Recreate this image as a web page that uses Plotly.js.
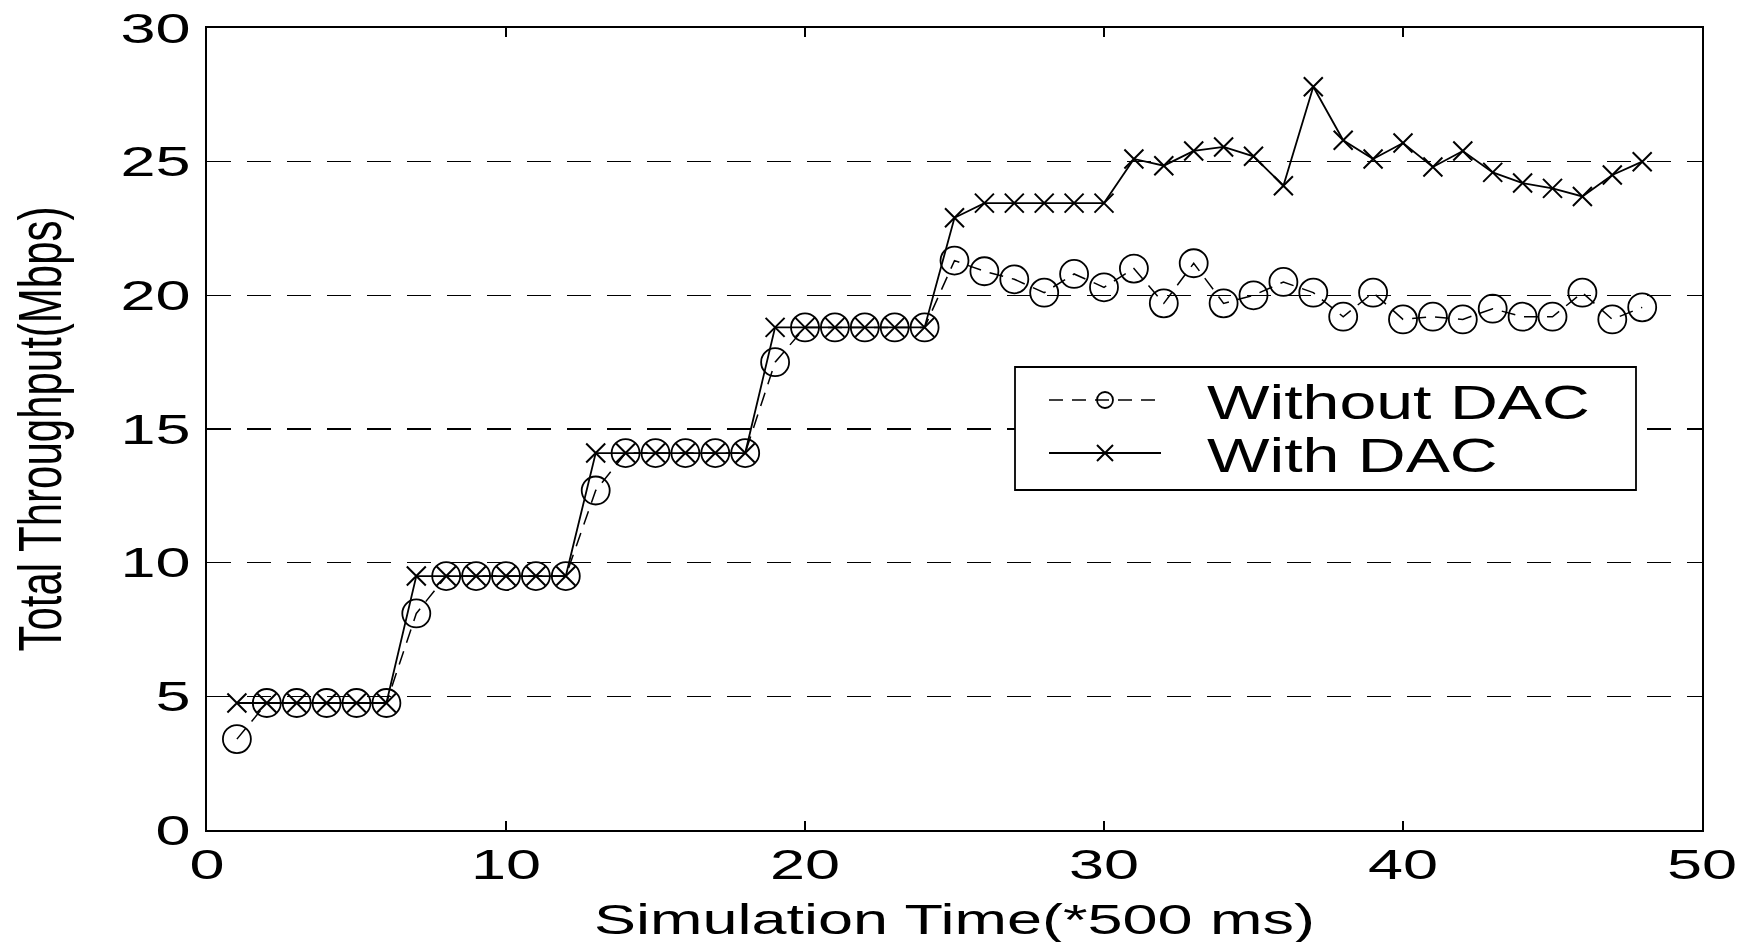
<!DOCTYPE html>
<html>
<head>
<meta charset="utf-8">
<script src="https://cdn.plot.ly/plotly-3.0.1.min.js"></script>
<style>
  html, body { margin: 0; padding: 0; background: #fff; }
  #chart { width: 1755px; height: 942px; }
</style>
</head>
<body>
<div id="chart"></div>
<script>
// ---- data ----
const timeSteps = [1,2,3,4,5,6,7,8,9,10,11,12,13,14,15,16,17,18,19,20,21,22,23,24,
                   25,26,27,28,29,30,31,32,33,34,35,36,37,38,39,40,41,42,43,44,45,46,47,48];
const withoutDAC = [3.4,4.75,4.75,4.75,4.75,4.75, 8.1,9.5,9.5,9.5,9.5,9.5,
                    12.7,14.1,14.1,14.1,14.1,14.1, 17.5,18.8,18.8,18.8,18.8,18.8,
                    21.3,20.9,20.6,20.1,20.8,20.3,21.0,19.7,21.2,19.7,20.0,20.5,
                    20.1,19.2,20.1,19.1,19.2,19.1,19.5,19.2,19.2,20.1,19.1,19.55];
const withDAC = [4.75,4.75,4.75,4.75,4.75,4.75, 9.5,9.5,9.5,9.5,9.5,9.5,
                 14.1,14.1,14.1,14.1,14.1,14.1, 18.8,18.8,18.8,18.8,18.8,18.8,
                 22.9,23.45,23.45,23.45,23.45,23.45,25.1,24.85,25.4,25.55,25.2,24.1,
                 27.8,25.8,25.1,25.7,24.8,25.4,24.6,24.2,24.0,23.7,24.5,25.0];
const seriesNames = ['Without DAC', 'With DAC'];
const xTicks = [0,10,20,30,40,50];
const yTicks = [0,5,10,15,20,25,30];
const xTitle = 'Simulation Time(*500 ms)';
const yTitle = 'Total Throughput(Mbps)';

const FONT = 'Liberation Sans, Arial, Helvetica, sans-serif';

const traces = [
  {
    x: timeSteps, y: withoutDAC, name: seriesNames[0],
    type: 'scatter', mode: 'lines+markers',
    line: { color: '#000', width: 1.5, dash: '14px,9px' },
    marker: { symbol: 'circle-open', size: 28, color: '#000', line: { color: '#000', width: 1.8 } }
  },
  {
    x: timeSteps, y: withDAC, name: seriesNames[1],
    type: 'scatter', mode: 'lines+markers',
    line: { color: '#000', width: 1.8 },
    marker: { symbol: 'x-thin-open', size: 19, color: '#000', line: { color: '#000', width: 2 } }
  }
];

const L = 207, R = 53, T = 28, B = 112;
const plotW = 1755 - L - R, plotH = 942 - T - B;
function px2paperX(px) { return (px - L) / plotW; }
function px2paperY(py) { return (942 - B - py) / plotH; }

const layout = {
  width: 1755, height: 942,
  margin: { l: L, r: R, t: T, b: B, pad: 0 },
  paper_bgcolor: '#fff', plot_bgcolor: '#fff',
  font: { family: FONT, color: '#000', size: 42 },
  showlegend: true,
  xaxis: {
    range: [0, 50], tickvals: xTicks, ticktext: xTicks.map(String),
    showgrid: false, zeroline: false,
    showline: true, linecolor: '#000', linewidth: 2, mirror: 'ticks',
    ticks: 'inside', ticklen: 9, tickwidth: 1.5, tickcolor: '#000',
    tickfont: { family: FONT, size: 42, color: '#000' },
    ticklabelstandoff: -3,
    title: { text: xTitle, font: { family: FONT, size: 42, color: '#000' }, standoff: 36 },
    automargin: false
  },
  yaxis: {
    range: [0, 30], tickvals: yTicks, ticktext: yTicks.map(String),
    showgrid: true, gridcolor: '#000', gridwidth: 1.3, griddash: '24px,16px',
    zeroline: false,
    showline: true, linecolor: '#000', linewidth: 2, mirror: 'ticks',
    ticks: 'inside', ticklen: 9, tickwidth: 1.5, tickcolor: '#000',
    tickfont: { family: FONT, size: 42, color: '#000' },
    ticklabelstandoff: 6,
    title: { text: yTitle, font: { family: FONT, size: 42, color: '#000' }, standoff: 76 },
    automargin: false
  },
  legend: {
    x: px2paperX(1044), y: px2paperY(367), xanchor: 'left', yanchor: 'top',
    bgcolor: 'rgba(0,0,0,0)', borderwidth: 0,
    font: { family: FONT, size: 48, color: '#000' },
    itemwidth: 112
  },
  shapes: [
    {
      type: 'rect', xref: 'paper', yref: 'paper', layer: 'above',
      x0: px2paperX(1015), x1: px2paperX(1636),
      y0: px2paperY(490), y1: px2paperY(367),
      fillcolor: '#fff', line: { color: '#000', width: 1.8 }
    }
  ]
};

function stretchTexts() {
  const svgRect = document.querySelector('#chart .main-svg').getBoundingClientRect();
  function apply(sel, s, mode, targetLeft, dy) {
    document.querySelectorAll(sel).forEach(function (el) {
      try {
        const bb = el.getBBox();
        let t = el.getAttribute('transform') || '';
        if (mode === 'vertical') {
          const c = bb.y + bb.height / 2;
          t += ' translate(0,' + c + ') scale(1,' + s + ') translate(0,' + (-c) + ')';
        } else {
          let dx = 0;
          if (targetLeft !== undefined && targetLeft !== null) {
            dx = targetLeft - (el.getBoundingClientRect().left - svgRect.left);
          }
          const c = mode === 'start' ? bb.x : (mode === 'end' ? bb.x + bb.width : bb.x + bb.width / 2);
          t += ' translate(' + dx + ',' + (dy || 0) + ') translate(' + c + ',0) scale(' + s + ',1) translate(' + (-c) + ',0)';
        }
        el.setAttribute('transform', t);
      } catch (e) {}
    });
  }
  // legend: let stretched text show, and put the rows where the reference has them
  document.querySelectorAll('#chart .legend [clip-path]').forEach(function (el) {
    el.removeAttribute('clip-path');
  });
  const rowTargets = [400, 453];
  document.querySelectorAll('#chart .legend .traces').forEach(function (g, i) {
    try {
      const pt = g.querySelector('.legendpoints');
      const r = pt.getBoundingClientRect();
      const cy = r.top + r.height / 2 - svgRect.top;
      const dy = rowTargets[i] - cy;
      g.setAttribute('transform', (g.getAttribute('transform') || '') + ' translate(0,' + dy + ')');
    } catch (e) {}
  });
  apply('#chart .xtick text', 1.5, 'middle');
  apply('#chart .ytick text', 1.5, 'end');
  apply('#chart .g-xtitle text', 1.5, 'middle', null, 1);
  apply('#chart .g-ytitle text', 1.45, 'vertical');
  apply('#chart .legendtext', 1.38, 'start', 1207);
}

Plotly.newPlot('chart', traces, layout, { displayModeBar: false, staticPlot: true })
  .then(stretchTexts);
</script>
</body>
</html>
